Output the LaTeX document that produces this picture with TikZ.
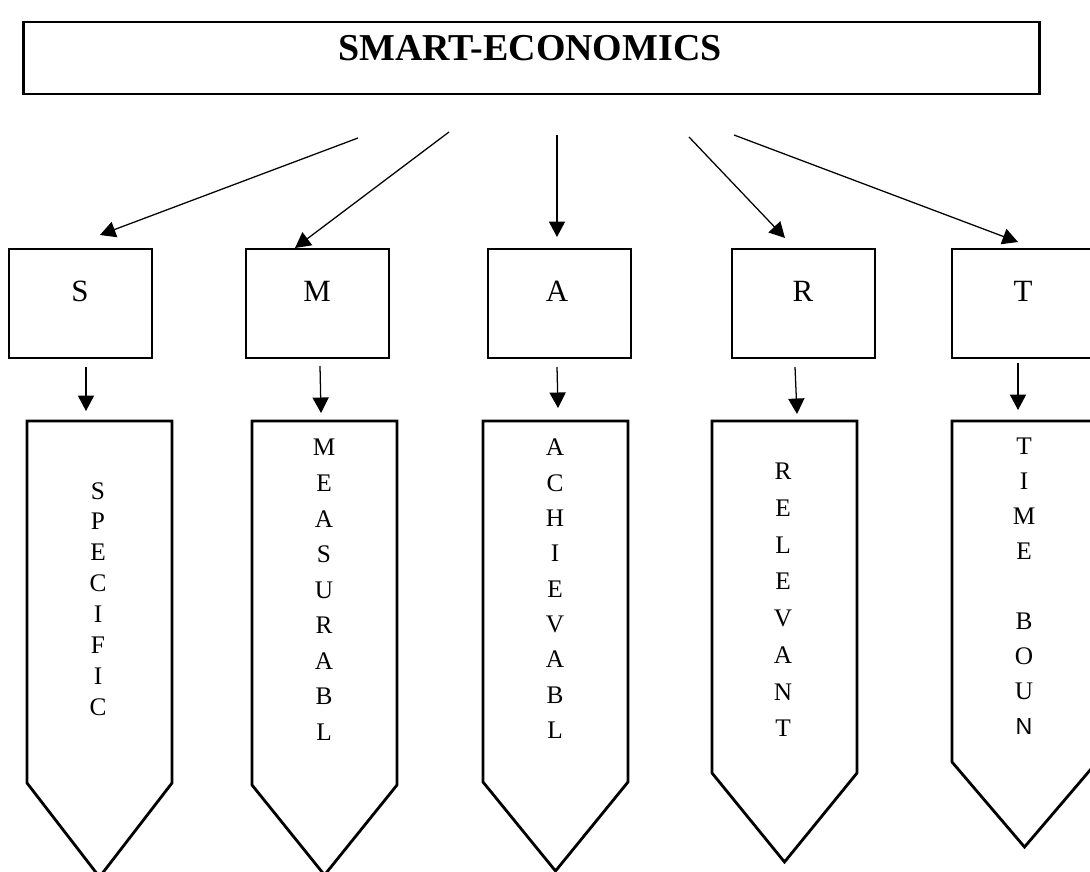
\documentclass[tikz,border=0pt]{standalone}
\usepackage{fontspec}
\setmainfont{Liberation Serif}
\newfontfamily\sansN{Liberation Sans}
\usetikzlibrary{arrows.meta}

\begin{document}
\begin{tikzpicture}[x=0.025cm,y=-0.025cm,
  every node/.style={inner sep=0pt},
  framebox/.style={draw,line width=2pt},
  link/.style={line width=0.9pt,-{Triangle[length=11pt,width=11.5pt]}},
  letter/.style={font=\fontsize{22}{26}\selectfont},
  word/.style={anchor=north,align=center,font=\fontsize{18}{#1}\selectfont}]
\useasboundingbox (0,0) rectangle (1090,872);
% title
\node[framebox,minimum width=25.375cm,minimum height=1.8cm] (top) at (531.5,58) {};
\node[font=\fontsize{27}{31}\selectfont\bfseries] (toptext) at (530,48) {SMART-ECONOMICS};
% letter boxes
\foreach \n/\xl/\l/\lx in {s/9/S/80,m/246/M/317,a/488/A/557,r/732/R/803,t/952/T/1023} {
  \node[framebox,minimum width=3.575cm,minimum height=2.725cm] (\n box) at (\xl+71.5,303.5) {};
  \node[letter] (\n lbl) at (\lx,291) {\l};
}
% arrow shapes
\foreach \xl/\c/\d in {27/783/94,252/785/90,483/782/89,712/773/89,952/762/85}
  \draw[framebox,line join=miter] (\xl,421) -- (\xl+145,421) -- (\xl+145,\c) -- (\xl+72.5,\c+\d) -- (\xl,\c) -- cycle;
\node[word=22pt] (sword) at (98,482) {S\\P\\E\\C\\I\\F\\I\\C};
\node[word=25.3pt] (mword) at (324,439) {M\\E\\A\\S\\U\\R\\A\\B\\L};
\node[word=25.1pt] (aword) at (555,439) {A\\C\\H\\I\\E\\V\\A\\B\\L};
\node[word=26.1pt] (rword) at (783,463) {R\\E\\L\\E\\V\\A\\N\\T};
\node[word=24.9pt] (tword) at (1024,438) {T\\I\\M\\E\\[24.9pt]B\\O\\U\\{\sansN\fontsize{16.5}{24.9}\selectfont N}};
% connectors
\foreach \n/\xa/\ya/\xb/\yb in {s/358/138/100/235,m/449/132/295/248,a/557/135/557/237,r/689/137/785/238,t/734/135/1018/242} {
  \coordinate (\n top) at (\xa,\ya);
  \coordinate (\n tip) at (\xb,\yb);
  \draw[link] (\n top) -- (\n tip);
}
\foreach \n/\xa/\ya/\xb/\yb in {s/86/367/86/411,m/320/366/321/413,a/557/367/558/408,r/795/367/797/414,t/1018/363/1018/410} {
  \coordinate (\n down) at (\xa,\ya);
  \coordinate (\n end) at (\xb,\yb);
  \draw[link] (\n down) -- (\n end);
}
\end{tikzpicture}
\end{document}
